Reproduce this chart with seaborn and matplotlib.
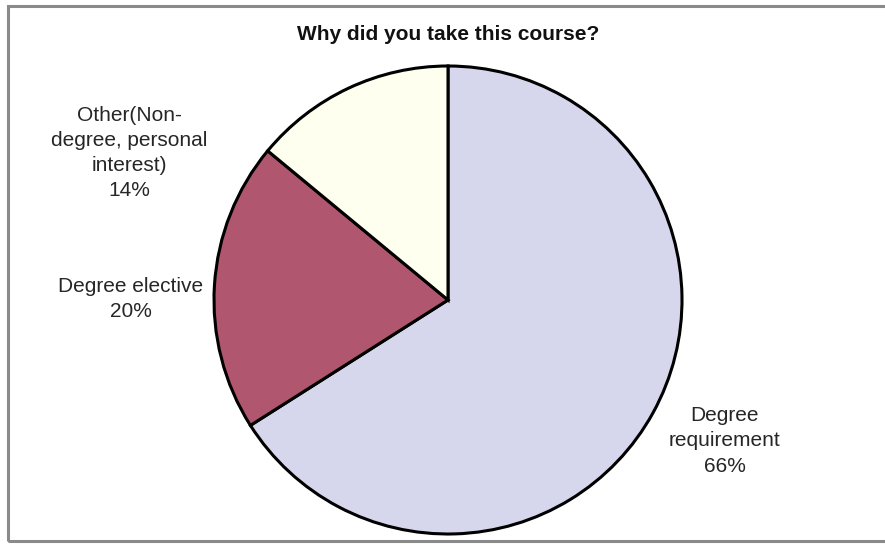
import matplotlib
matplotlib.use("Agg")
import matplotlib.pyplot as plt
import seaborn as sns

# Survey answers, clockwise from 12 o'clock
categories = ["Degree requirement", "Degree elective", "Other(Non-degree, personal interest)"]
label_lines = [
    "Degree\nrequirement",
    "Degree elective",
    "Other(Non-\ndegree, personal\ninterest)",
]
shares = [66, 20, 14]
slice_colors = ["#D6D6EC", "#B0566F", "#FFFFF0"]

title = "Why did you take this course?"

sns.set_theme(style="white")
plt.rcParams["font.family"] = ["Liberation Sans", "DejaVu Sans"]

W, H = 885, 544
fig = plt.figure(figsize=(W / 100, H / 100), dpi=100)
ax = fig.add_axes([0, 0, 1, 1])

cx, cy, r = 448, H - 300, 234
palette = sns.color_palette(slice_colors)
ax.pie(shares, colors=palette, startangle=90, counterclock=False,
       center=(cx, cy), radius=r, frame=True,
       wedgeprops=dict(edgecolor="black", linewidth=2.2))
ax.set_xlim(0, W)
ax.set_ylim(0, H)
ax.set_axis_off()

# outer chart border
ax.add_patch(plt.Rectangle((8, H - 541), W + 10, 535, fill=False,
                           edgecolor="#8a8a8a", linewidth=2.2))

# category labels with their percentages
label_pos = [(725, 441), (131, 299), (129, 153)]
for lines, v, (x, y) in zip(label_lines, shares, label_pos):
    ax.text(x, H - y, f"{lines}\n{v}%", ha="center", va="center",
            fontsize=15, color="#262626", linespacing=1.42)

ax.text(cx, H - 34, title, ha="center", va="center", fontsize=15,
        fontweight="bold", color="#111111")

fig.savefig("out.png", dpi=100, facecolor="white")
